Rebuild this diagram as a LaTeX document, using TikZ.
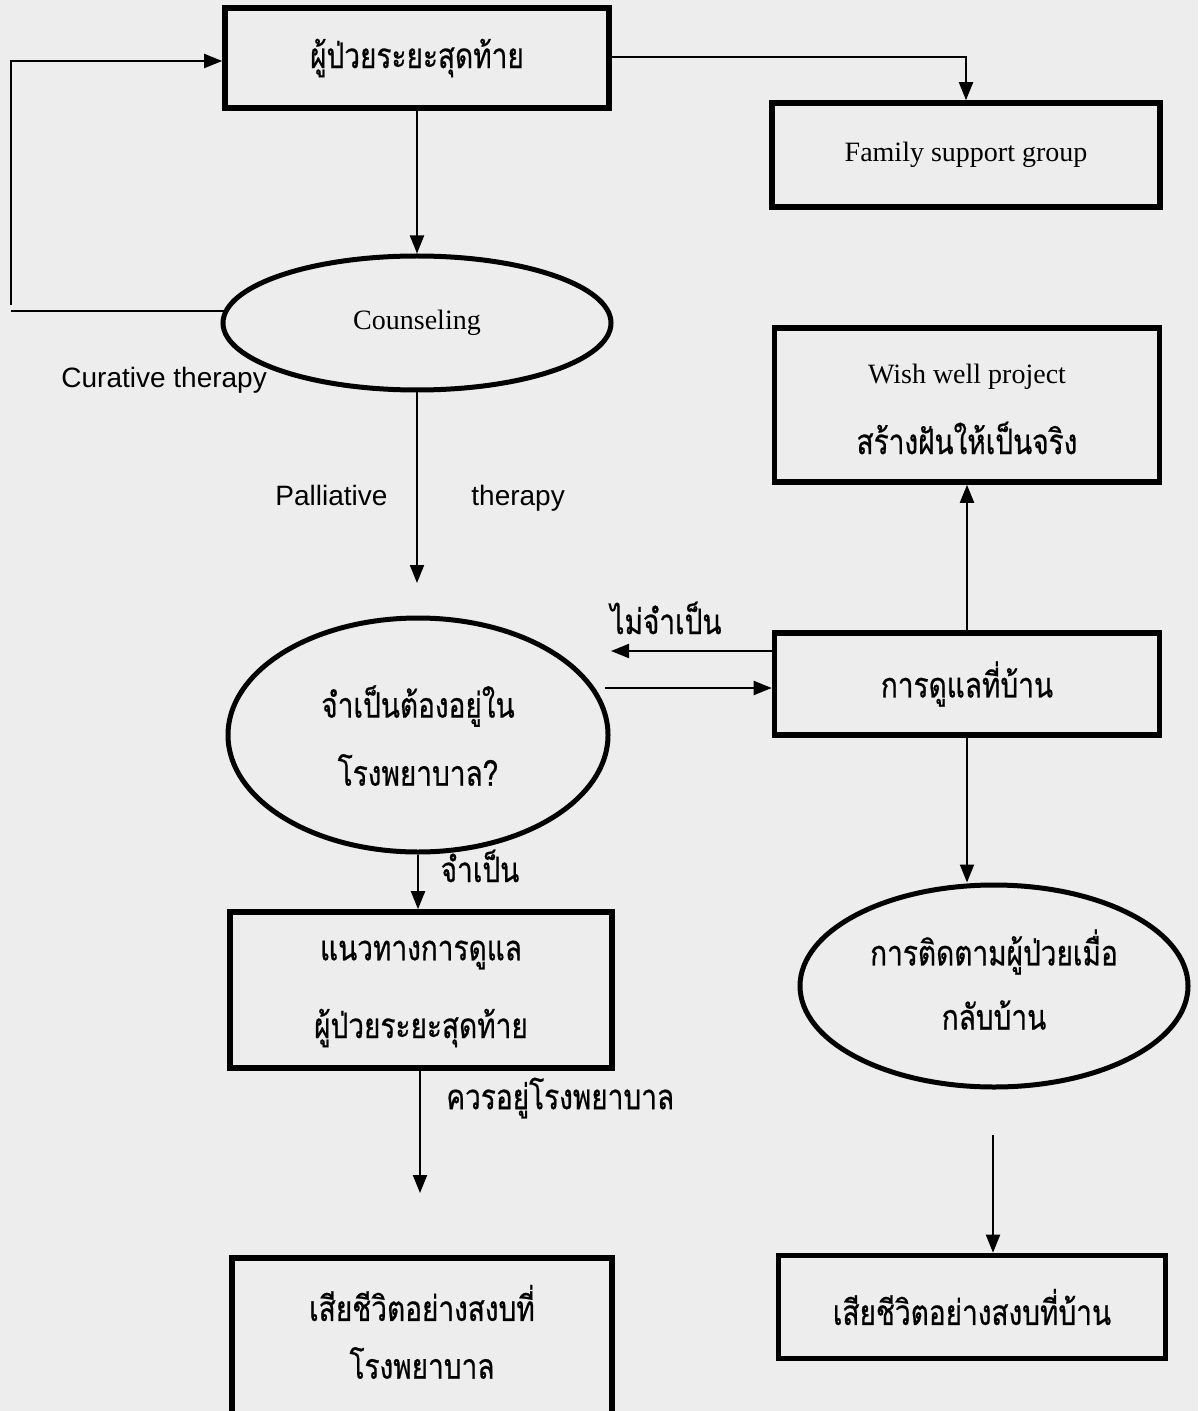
\documentclass[tikz,border=0pt]{standalone}
\usepackage{fontspec}
\setmainfont{Liberation Serif}
\newfontfamily\thai[Script=Thai,FakeStretch=0.8,FakeBold=0.6]{Loma}
\newfontfamily\arialf{Liberation Sans}
\usetikzlibrary{shapes.geometric,arrows.meta,calc}
\definecolor{paper}{RGB}{237,237,237}
\tikzset{
  box/.style={draw, line width=2.8pt, rectangle, align=center, inner sep=0pt},
  oval/.style={draw, line width=2.5pt, ellipse, align=center, inner sep=0pt},
  conn/.style={line width=1pt, -{Triangle[length=9pt,width=7pt]}},
  plain/.style={line width=1pt},
  th/.style={font=\thai\fontsize{17.5}{24}\selectfont},
  en/.style={font=\fontsize{14}{24}\selectfont},
  lab/.style={font=\arialf\fontsize{14}{17}\selectfont, inner sep=0pt},
  thlab/.style={font=\thai\fontsize{17.5}{18}\selectfont, inner sep=0pt},
}
\begin{document}
\begin{tikzpicture}[x=0.5pt,y=-0.5pt]
\fill[paper] (0,0) rectangle (1198,1411);
\useasboundingbox (0,0) rectangle (1198,1411);
% nodes
\node[box, th, minimum width=384*0.5pt, minimum height=100*0.5pt] (b1) at (417,58) {ผู้ป่วยระยะสุดท้าย};
\node[box, en, minimum width=388*0.5pt, minimum height=104*0.5pt] (fam) at (966,155) {Family support group};
\node[oval, en, minimum width=388*0.5pt, minimum height=134*0.5pt] (cou) at (417,323) {Counseling};
\node[box, minimum width=385*0.5pt, minimum height=154*0.5pt] (wish) at (967,405) {};
\node[en, anchor=center] (wishA) at (967,377) {Wish well project};
\node[th, anchor=center] (wishB) at (967,438) {สร้างฝันให้เป็นจริง};
\node[box, th, minimum width=385*0.5pt, minimum height=102*0.5pt] (home) at (967,684) {การดูแลที่บ้าน};
\node[oval, minimum width=380*0.5pt, minimum height=234*0.5pt] (need) at (418,735) {};
\node[th] (needA) at (418,706) {จำเป็นต้องอยู่ใน};
\node[th] (needB) at (418,770) {โรงพยาบาล?};
\node[box, minimum width=382*0.5pt, minimum height=156*0.5pt] (guide) at (421,990) {};
\node[th] (guideA) at (421,955) {แนวทางการดูแล};
\node[th] (guideB) at (421,1028) {ผู้ป่วยระยะสุดท้าย};
\node[oval, minimum width=388*0.5pt, minimum height=202*0.5pt] (follow) at (994,986) {};
\node[th] (followA) at (994,952) {การติดตามผู้ป่วยเมื่อ};
\node[th] (followB) at (994,1015) {กลับบ้าน};
\node[box, minimum width=380*0.5pt, minimum height=160*0.5pt] (dieH) at (422,1338) {};
\node[th] (dieHA) at (422,1303) {เสียชีวิตอย่างสงบที่};
\node[th] (dieHB) at (422,1363) {โรงพยาบาล};
\node[box, th, minimum width=387*0.5pt, minimum height=103*0.5pt] (dieM) at (972,1307) {เสียชีวิตอย่างสงบที่บ้าน};
% labels
\node[lab, anchor=base west] (cur) at (61,387) {Curative therapy};
\node[lab, anchor=base west] (pal) at (275,505) {Palliative\hspace{42pt}therapy};
\node[thlab] (no) at (666,618) {ไม่จำเป็น};
\node[thlab] (yes) at (480,866) {จำเป็น};
\node[thlab, anchor=west] (stay) at (446,1098) {ควรอยู่โรงพยาบาล};
% free coordinates
\coordinate (fbL) at (11,311);
\coordinate (palEnd) at (417,583);
\coordinate (noEnd) at (611,651);
\coordinate (yesStart) at (605,688);
\coordinate (stayEnd) at (420,1193);
\coordinate (folEnd) at (993,1135);
% connectors
\draw[plain] ($(cou.west)+(6,-12)$) -- (fbL);
\draw[conn] (11,305) |- (b1.west |- 0,61);
\draw[conn] (b1.south) -- (cou.north);
\draw[conn] (b1.east |- 0,57) -| (fam.north);
\draw[conn] (cou.south) -- (palEnd);
\draw[conn] (home.west |- noEnd) -- (noEnd);
\draw[conn] (yesStart) -- (home.west |- yesStart);
\draw[conn] (home.north) -- (wish.south);
\draw[conn] (home.south) -- (home.south |- follow.north);
\draw[conn] (need.south) -- (guide.north -| need.south);
\draw[conn] (guide.south -| stayEnd) -- (stayEnd);
\draw[conn] (folEnd) -- (folEnd |- dieM.north);
\end{tikzpicture}
\end{document}
